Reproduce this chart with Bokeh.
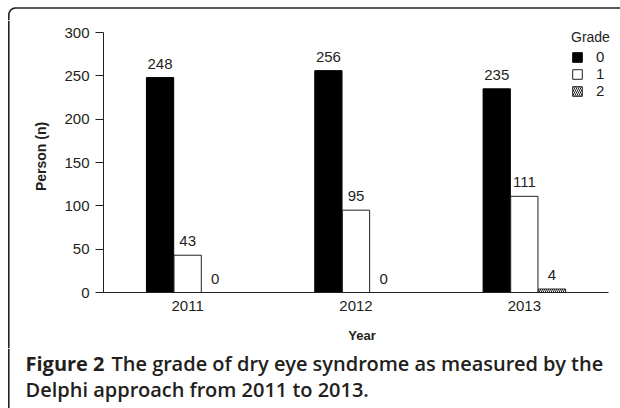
import numpy as np
from bokeh.plotting import figure
from bokeh.layouts import column, row
from bokeh.models import (ColumnDataSource, LabelSet, Legend, LegendItem,
                          FixedTicker, Label)
from bokeh.transform import dodge
from bokeh.core.properties import value
from bokeh.embed import file_html
from bokeh.resources import INLINE

# ---- data ----
years = ["2011", "2012", "2013"]
grade0 = [248, 256, 235]
grade1 = [43, 95, 111]
grade2 = [0, 0, 4]
grade_names = ["0", "1", "2"]
y_ticks = [0, 50, 100, 150, 200, 250, 300]
caption_bold = "Figure 2"
caption_rest = "The grade of dry eye syndrome as measured by the"
caption_line2 = "Delphi approach from 2011 to 2013."

xs = list(range(1, len(years) + 1))
src = ColumnDataSource(dict(
    x=xs, g0=grade0, g1=grade1, g2=grade2,
    t0=[str(v) for v in grade0], t1=[str(v) for v in grade1],
    t2=[str(v) for v in grade2]))

FONT = "Liberation Sans"
AX = "#231f20"
BORDER = "#222222"
BX, BY, BR, BW = 8.3, 7.5, 7.0, 1.6   # page border box: left x, top y, radius, width


def blank(width, height):
    f = figure(width=width, height=height, x_range=(0, width),
               y_range=(height, 0), output_backend="svg",
               toolbar_location=None, min_border=0, frame_align=False,
               x_axis_location=None, y_axis_location=None)
    f.outline_line_color = None
    f.grid.grid_line_color = None
    f.background_fill_color = "white"
    f.border_fill_color = "white"
    return f


# ---- top strip: top edge of the figure box with rounded corner ----
TOP_H = 20
top_fig = blank(620, TOP_H)
th = np.linspace(np.pi, 1.5 * np.pi, 20)
bx = [BX, BX] + list(BX + BR + BR * np.cos(th)) + [620]
by = [TOP_H, BY + BR] + list(BY + BR + BR * np.sin(th)) + [BY]
top_fig.line(bx, by, line_color=BORDER, line_width=BW)

# ---- main chart ----
CH_W, CH_H = 600, 328
LEFT_W = 620 - CH_W
ML, MB = 103 - LEFT_W, (TOP_H + CH_H) - 292
frame_w = CH_W - ML
frame_h = CH_H - MB
px_x = 168.33
px_y = 260.0 / 300.0

p = figure(width=CH_W, height=CH_H,
           x_range=(0.5, 0.5 + frame_w / px_x), y_range=(0, frame_h / px_y),
           output_backend="svg", toolbar_location=None, frame_align=False,
           min_border_left=ML, min_border_right=0, min_border_top=0,
           min_border_bottom=MB)
p.outline_line_color = None
p.grid.grid_line_color = None
p.background_fill_color = "white"
p.border_fill_color = "white"

off = 0.164
bw = 0.162
r0 = p.vbar(x=dodge("x", -off), top="g0", width=bw, source=src,
            fill_color="black", line_color="black", line_width=1)
r1 = p.vbar(x=dodge("x", 0), top="g1", width=bw, source=src,
            fill_color="white", line_color=AX, line_width=1)
r2 = p.vbar(x=dodge("x", off), top="g2", width=bw, source=src,
            fill_color="white", line_color=AX, line_width=1,
            hatch_pattern="\\", hatch_color=AX, hatch_scale=4, hatch_weight=1)

for dx, col, top in [(-off, "t0", "g0"), (0, "t1", "g1"), (off, "t2", "g2")]:
    p.add_layout(LabelSet(x=dodge("x", dx), y=top, text=col, source=src,
                          text_align="center", text_baseline="alphabetic",
                          y_offset=9, text_font=value(FONT),
                          text_font_size="15px", text_color=AX))

# y axis
ya = p.yaxis[0]
ya.ticker = FixedTicker(ticks=y_ticks)
ya.bounds = (0, 300)
ya.major_tick_out = 8
ya.major_tick_in = 0
ya.minor_tick_out = 0
ya.minor_tick_in = 0
ya.major_label_standoff = 6
ya.major_label_text_font = FONT
ya.major_label_text_font_size = "15px"
ya.major_label_text_color = AX
ya.axis_line_color = AX
ya.major_tick_line_color = AX
ya.axis_label = "Person (n)"
ya.axis_label_text_font = FONT
ya.axis_label_text_font_style = "bold"
ya.axis_label_text_font_size = "14px"
ya.axis_label_text_color = AX
ya.axis_label_standoff = 12

# x axis
xa = p.xaxis[0]
xa.ticker = FixedTicker(ticks=xs)
xa.bounds = (0.5, 3.5)
xa.major_label_overrides = {x: y for x, y in zip(xs, years)}
xa.major_tick_out = 0
xa.major_tick_in = 0
xa.minor_tick_out = 0
xa.minor_tick_in = 0
xa.major_label_standoff = 8
xa.major_label_text_font = FONT
xa.major_label_text_font_size = "15px"
xa.major_label_text_color = AX
xa.axis_line_color = AX
xa.axis_label = "Year"
xa.axis_label_text_font = FONT
xa.axis_label_text_font_style = "bold"
xa.axis_label_text_font_size = "13px"
xa.axis_label_text_color = AX
xa.axis_label_standoff = 14

# legend
legend = Legend(items=[LegendItem(label=grade_names[0], renderers=[r0]),
                       LegendItem(label=grade_names[1], renderers=[r1]),
                       LegendItem(label=grade_names[2], renderers=[r2])],
                location=(468, 193), title="Grade",
                glyph_width=12, glyph_height=12, label_height=12,
                spacing=0, label_standoff=13, padding=0, margin=0,
                border_line_color=None, background_fill_alpha=0,
                title_standoff=3,
                label_text_font=FONT, label_text_font_size="15px",
                label_text_color=AX,
                title_text_font=FONT, title_text_font_size="14px",
                title_text_font_style="normal", title_text_color=AX)
p.add_layout(legend)

# ---- left strip: left edge of the figure box ----
left_fig = blank(LEFT_W, CH_H)
left_fig.segment(x0=[BX], y0=[0], x1=[BX], y1=[CH_H],
                 line_color=BORDER, line_width=BW)

# ---- caption ----
CAP_H = 408 - TOP_H - CH_H
cap = blank(620, CAP_H)
cap.segment(x0=[BX], y0=[0], x1=[BX], y1=[CAP_H],
            line_color=BORDER, line_width=BW)
CAP = "#231f20"
CAP_SEMI = "Open Sans SemiBold, Open Sans"
y1 = 15.0
y2 = 40.5
cap.add_layout(Label(x=25, y=y1, text=caption_bold, text_font="Open Sans",
                     text_font_style="bold", text_font_size="20px",
                     text_color=CAP, text_baseline="alphabetic"))
cap.add_layout(Label(x=111, y=y1, text=caption_rest, text_font=CAP_SEMI,
                     text_font_style="normal", text_font_size="20px",
                     text_color=CAP, text_baseline="alphabetic"))
cap.add_layout(Label(x=25, y=y2, text=caption_line2, text_font=CAP_SEMI,
                     text_font_style="normal", text_font_size="20px",
                     text_color=CAP, text_baseline="alphabetic"))

layout = column(top_fig, row(left_fig, p), cap)
open("out.html", "w").write(file_html(layout, INLINE))
